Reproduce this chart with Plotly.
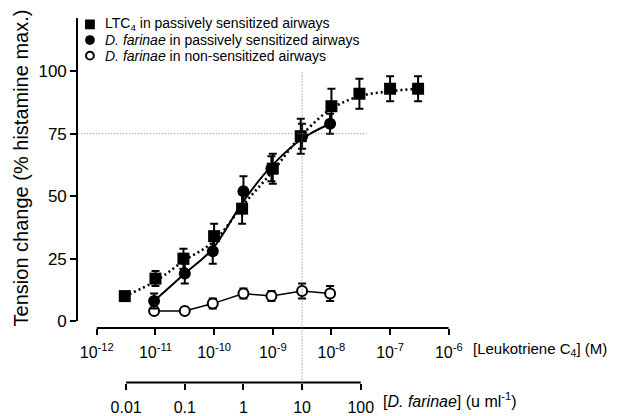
import math
import plotly.graph_objects as go

# ---------------- data ----------------
ltc4_conc = [3e-12, 1e-11, 3e-11, 1e-10, 3e-10, 1e-9, 3e-9, 1e-8, 3e-8, 1e-7, 3e-7]   # M
ltc4_resp = [10, 17, 25, 34, 45, 61, 74, 86, 91, 93, 93]
ltc4_err = [0, 3, 4, 5, 6, 6, 7, 7, 6, 5, 5]
ltc4_fit = [10, 16, 24, 32, 46, 60, 74, 85, 90, 92, 93]

df_conc = [0.03, 0.1, 0.3, 1, 3, 10, 30]   # u/ml
df_sens_resp = [8, 19, 28, 52, 61, 74, 79]
df_sens_err = [3, 4, 5, 6, 5, 5, 4]
df_sens_fit = [8, 19, 29, 48, 62, 73, 79]
df_nonsens_resp = [4, 4, 7, 11, 10, 12, 11]
df_nonsens_err = [1, 1, 2, 2, 2, 3, 3]

ltc4_ticks = [1e-12, 1e-11, 1e-10, 1e-9, 1e-8, 1e-7, 1e-6]
ltc4_ticktext = ["10<sup>-12</sup>", "10<sup>-11</sup>", "10<sup>-10</sup>", "10<sup>-9</sup>",
                 "10<sup>-8</sup>", "10<sup>-7</sup>", "10<sup>-6</sup>"]
df_ticks = [0.01, 0.1, 1, 10, 100]
df_ticktext = ["0.01", "0.1", "1", "10", "100"]
y_ticks = [0, 25, 50, 75, 100]

ref_level = 75          # horizontal reference (% histamine max.)
ref_df = 10             # vertical reference (u/ml)
ref_h_end = 4e-8        # end of horizontal reference line (M)
ref_v_top = 100

legend_labels = ["LTC<sub>4</sub> in passively sensitized airways",
                 "<i>D. farinae</i> in passively sensitized airways",
                 "<i>D. farinae</i> in non-sensitized airways"]

# ---------------- layout geometry (pixels) ----------------
W, H = 627, 416
def px(x): return x / W
def py(y): return 1 - y / H

X_LEFT, X_RIGHT = 80, 459       # plot area
X_DEC0 = 99                     # pixel of first LTC4 decade
PX_DEC = 60                     # pixels per decade
Y_ZERO, Y_TOP = 329, 18
PX_PER_UNIT = 2.56
LTC_AXIS_Y, DF_AXIS_Y = 336, 392
DF_OFFSET = 9.5                 # log10(u/ml) = log10(M) + 9.5

ltc_range = [math.log10(ltc4_ticks[0]) - (X_DEC0 - X_LEFT) / PX_DEC, math.log10(ltc4_ticks[-1])]
df_range = [r + DF_OFFSET for r in ltc_range]
ymax = (Y_ZERO - Y_TOP) / PX_PER_UNIT
ydom = [py(Y_ZERO), py(Y_TOP)]

FONT = "Liberation Sans, Arial, sans-serif"
err_style = dict(type="data", color="black", thickness=2, width=4, visible=True)

fig = go.Figure()

# fitted curves
fig.add_trace(go.Scatter(x=ltc4_conc, y=ltc4_fit, mode="lines", xaxis="x", yaxis="y",
                         line=dict(color="black", width=2.6, dash="2px,3px", shape="spline"),
                         hoverinfo="skip"))
fig.add_trace(go.Scatter(x=df_conc, y=df_sens_fit, mode="lines", xaxis="x2", yaxis="y",
                         line=dict(color="black", width=2, shape="spline"), hoverinfo="skip"))
fig.add_trace(go.Scatter(x=df_conc, y=df_nonsens_resp, mode="lines", xaxis="x2", yaxis="y",
                         line=dict(color="black", width=1.5), hoverinfo="skip"))

# data points
fig.add_trace(go.Scatter(x=df_conc, y=df_nonsens_resp, mode="markers", xaxis="x2", yaxis="y",
                         error_y=dict(array=df_nonsens_err, **err_style),
                         marker=dict(symbol="circle", size=10, color="white",
                                     line=dict(color="black", width=2)), cliponaxis=False))
fig.add_trace(go.Scatter(x=df_conc, y=df_sens_resp, mode="markers", xaxis="x2", yaxis="y",
                         error_y=dict(array=df_sens_err, **err_style),
                         marker=dict(symbol="circle", size=12, color="black"), cliponaxis=False))
fig.add_trace(go.Scatter(x=ltc4_conc, y=ltc4_resp, mode="markers", xaxis="x", yaxis="y",
                         error_y=dict(array=ltc4_err, **err_style),
                         marker=dict(symbol="square", size=12, color="black"), cliponaxis=False))

axis_common = dict(type="log", domain=[px(X_LEFT), px(X_RIGHT)], showline=False, showgrid=False,
                   zeroline=False, ticks="outside", ticklen=6, tickwidth=2, tickcolor="black",
                   ticklabelstandoff=4,
                   tickfont=dict(size=16, color="black", family=FONT), anchor="free")

shapes = []
# drawn axis lines (only across the labelled decades)
shapes.append(dict(type="line", xref="x", yref="paper",
                   x0=ltc4_ticks[0], x1=ltc4_ticks[-1],
                   y0=py(LTC_AXIS_Y), y1=py(LTC_AXIS_Y), line=dict(color="black", width=2)))
shapes.append(dict(type="line", xref="x2", yref="paper",
                   x0=df_ticks[0], x1=df_ticks[-1],
                   y0=py(DF_AXIS_Y), y1=py(DF_AXIS_Y), line=dict(color="black", width=2)))
# reference lines
shapes.append(dict(type="line", xref="x", yref="y", x0=10 ** ltc_range[0], x1=ref_h_end,
                   y0=ref_level, y1=ref_level,
                   line=dict(color="#777777", width=1, dash="1px,2px")))
shapes.append(dict(type="line", xref="x2", yref="paper",
                   x0=ref_df, x1=ref_df,
                   y0=py(DF_AXIS_Y), y1=ydom[0] + ref_v_top / ymax * (ydom[1] - ydom[0]),
                   line=dict(color="#777777", width=1, dash="1px,2px")))

# legend symbols
LEG_X, LEG_TEXT_X = 92, 105
LEG_Y = [25, 41, 57]
r = 5
shapes.append(dict(type="rect", xref="paper", yref="paper", x0=px(LEG_X - r), x1=px(LEG_X + r),
                   y0=py(LEG_Y[0] + r), y1=py(LEG_Y[0] - r), fillcolor="black", line=dict(width=0)))
shapes.append(dict(type="circle", xref="paper", yref="paper", x0=px(LEG_X - r), x1=px(LEG_X + r),
                   y0=py(LEG_Y[1] + r), y1=py(LEG_Y[1] - r), fillcolor="black", line=dict(width=0)))
shapes.append(dict(type="circle", xref="paper", yref="paper", x0=px(LEG_X - 4), x1=px(LEG_X + 4),
                   y0=py(LEG_Y[2] + 4), y1=py(LEG_Y[2] - 4), fillcolor="white",
                   line=dict(color="black", width=2)))

annotations = []
for lab, yy in zip(legend_labels, LEG_Y):
    annotations.append(dict(text=lab, xref="paper", yref="paper", x=px(LEG_TEXT_X), y=py(yy),
                            xanchor="left", yanchor="middle", showarrow=False,
                            font=dict(size=14, color="black", family=FONT)))
annotations.append(dict(text="Tension change (% histamine max.)", xref="paper", yref="paper",
                        x=px(21), y=py(172), textangle=-90, xanchor="center", yanchor="middle",
                        showarrow=False, font=dict(size=20, color="black", family=FONT)))
annotations.append(dict(text="[Leukotriene C<sub>4</sub>] (M)", xref="paper", yref="paper",
                        x=px(482), y=py(358), xanchor="left", yanchor="middle", showarrow=False,
                        font=dict(size=15, color="black", family=FONT)))
annotations.append(dict(text="[<i>D. farinae</i>] (u ml<sup>-1</sup>)", xref="paper", yref="paper",
                        x=px(390), y=py(410), xanchor="left", yanchor="middle", showarrow=False,
                        font=dict(size=16, color="black", family=FONT)))

fig.update_layout(
    width=W, height=H, margin=dict(l=0, r=0, t=0, b=0),
    paper_bgcolor="white", plot_bgcolor="white", showlegend=False,
    font=dict(family=FONT, color="black", size=15),
    xaxis=dict(range=ltc_range, position=py(LTC_AXIS_Y), tickvals=ltc4_ticks,
               ticktext=ltc4_ticktext, **axis_common),
    xaxis2=dict(range=df_range, position=py(DF_AXIS_Y), tickvals=df_ticks,
                ticktext=df_ticktext, overlaying="x", **axis_common),
    yaxis=dict(domain=ydom, range=[0, ymax], anchor="x", showline=True, linewidth=2,
               linecolor="black", showgrid=False, zeroline=False, ticks="outside", ticklen=6,
               tickwidth=2, tickcolor="black", tickvals=y_ticks,
               tickfont=dict(size=17, color="black", family=FONT)),
    shapes=shapes, annotations=annotations,
)

fig.write_html("out.html")
